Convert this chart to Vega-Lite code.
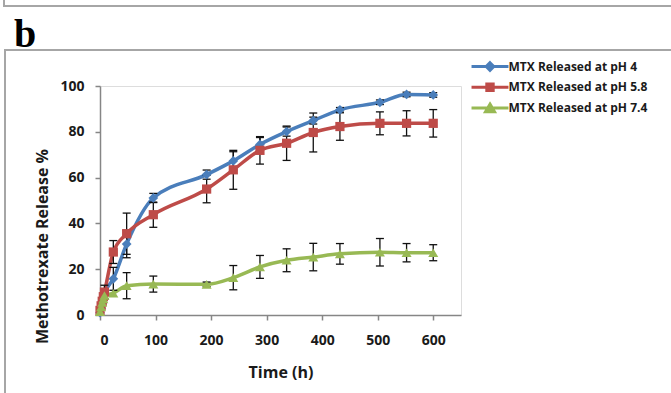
{
  "$schema": "https://vega.github.io/schema/vega-lite/v6.json",
  "autosize": {"type": "none"},
  "padding": {"left": 100, "top": 86, "right": 210, "bottom": 78},
  "width": 361,
  "height": 229,
  "background": "white",
  "title": {"text": "b", "anchor": "start", "frame": "group", "font": "Liberation Serif", "fontSize": 40, "fontWeight": "bold", "color": "#000000", "dx": -86, "dy": 41, "orient": "top", "baseline": "alphabetic", "offset": -52},
  "data": {
    "values": [
      {"series": "MTX Released at pH 4", "t": 0, "v": 1, "e": 0},
      {"series": "MTX Released at pH 4", "t": 2, "v": 3, "e": 0},
      {"series": "MTX Released at pH 4", "t": 4, "v": 5, "e": 0},
      {"series": "MTX Released at pH 4", "t": 6, "v": 7, "e": 0},
      {"series": "MTX Released at pH 4", "t": 8, "v": 9, "e": 2},
      {"series": "MTX Released at pH 4", "t": 24, "v": 15.8, "e": 5},
      {"series": "MTX Released at pH 4", "t": 48, "v": 31, "e": 6},
      {"series": "MTX Released at pH 4", "t": 96, "v": 51.1, "e": 2},
      {"series": "MTX Released at pH 4", "t": 192, "v": 61.3, "e": 2},
      {"series": "MTX Released at pH 4", "t": 240, "v": 67.3, "e": 4},
      {"series": "MTX Released at pH 4", "t": 288, "v": 74.5, "e": 3},
      {"series": "MTX Released at pH 4", "t": 336, "v": 80.1, "e": 2},
      {"series": "MTX Released at pH 4", "t": 384, "v": 84.9, "e": 1.5},
      {"series": "MTX Released at pH 4", "t": 432, "v": 89.6, "e": 1},
      {"series": "MTX Released at pH 4", "t": 504, "v": 92.9, "e": 1},
      {"series": "MTX Released at pH 4", "t": 552, "v": 96.3, "e": 1},
      {"series": "MTX Released at pH 4", "t": 600, "v": 96.1, "e": 1},
      {"series": "MTX Released at pH 5.8", "t": 0, "v": 2, "e": 0},
      {"series": "MTX Released at pH 5.8", "t": 2, "v": 4, "e": 0},
      {"series": "MTX Released at pH 5.8", "t": 4, "v": 6, "e": 0},
      {"series": "MTX Released at pH 5.8", "t": 6, "v": 8, "e": 0},
      {"series": "MTX Released at pH 5.8", "t": 8, "v": 10, "e": 3},
      {"series": "MTX Released at pH 5.8", "t": 24, "v": 27.5, "e": 5},
      {"series": "MTX Released at pH 5.8", "t": 48, "v": 35.5, "e": 9},
      {"series": "MTX Released at pH 5.8", "t": 96, "v": 43.8, "e": 5.5},
      {"series": "MTX Released at pH 5.8", "t": 192, "v": 55, "e": 6},
      {"series": "MTX Released at pH 5.8", "t": 240, "v": 63.4, "e": 8.5},
      {"series": "MTX Released at pH 5.8", "t": 288, "v": 71.9, "e": 6},
      {"series": "MTX Released at pH 5.8", "t": 336, "v": 75, "e": 7.5},
      {"series": "MTX Released at pH 5.8", "t": 384, "v": 79.7, "e": 8.5},
      {"series": "MTX Released at pH 5.8", "t": 432, "v": 82.3, "e": 6},
      {"series": "MTX Released at pH 5.8", "t": 504, "v": 83.7, "e": 5},
      {"series": "MTX Released at pH 5.8", "t": 552, "v": 83.7, "e": 5.5},
      {"series": "MTX Released at pH 5.8", "t": 600, "v": 83.7, "e": 6},
      {"series": "MTX Released at pH 7.4", "t": 0, "v": 1.5, "e": 0},
      {"series": "MTX Released at pH 7.4", "t": 2, "v": 3.5, "e": 0},
      {"series": "MTX Released at pH 7.4", "t": 4, "v": 5.5, "e": 0},
      {"series": "MTX Released at pH 7.4", "t": 6, "v": 7, "e": 0},
      {"series": "MTX Released at pH 7.4", "t": 8, "v": 8.5, "e": 0},
      {"series": "MTX Released at pH 7.4", "t": 24, "v": 9.5, "e": 0},
      {"series": "MTX Released at pH 7.4", "t": 48, "v": 12.8, "e": 5.7},
      {"series": "MTX Released at pH 7.4", "t": 96, "v": 13.5, "e": 3.5},
      {"series": "MTX Released at pH 7.4", "t": 192, "v": 13.4, "e": 1},
      {"series": "MTX Released at pH 7.4", "t": 240, "v": 16.3, "e": 5.3},
      {"series": "MTX Released at pH 7.4", "t": 288, "v": 21, "e": 5},
      {"series": "MTX Released at pH 7.4", "t": 336, "v": 23.9, "e": 5},
      {"series": "MTX Released at pH 7.4", "t": 384, "v": 25.3, "e": 6},
      {"series": "MTX Released at pH 7.4", "t": 432, "v": 26.7, "e": 4.5},
      {"series": "MTX Released at pH 7.4", "t": 504, "v": 27.4, "e": 6},
      {"series": "MTX Released at pH 7.4", "t": 552, "v": 27.2, "e": 4},
      {"series": "MTX Released at pH 7.4", "t": 600, "v": 27.2, "e": 3.5}
    ]
  },
  "encoding": {
    "x": {
      "field": "t", "type": "quantitative",
      "scale": {"domain": [0, 650], "nice": false, "zero": false},
      "axis": {
        "title": "Time (h)", "values": [0, 100, 200, 300, 400, 500, 600],
        "grid": false, "domainColor": "#868686", "domainWidth": 1.5, "tickColor": "#868686", "tickSize": 5, "tickWidth": 1.5,
        "labelFont": "Open Sans", "labelFontSize": 14, "labelFontWeight": "bold", "labelColor": "#1a1a1a", "labelPadding": 13,
        "titleFont": "Open Sans", "titleFontSize": 16, "titleFontWeight": "bold", "titleColor": "#1a1a1a",
        "titleBaseline": "middle", "titleY": 57
      }
    },
    "y": {
      "field": "v", "type": "quantitative",
      "scale": {"domain": [0, 100], "nice": false},
      "axis": {
        "title": "Methotrexate Release %", "values": [0, 20, 40, 60, 80, 100],
        "grid": false, "domainColor": "#868686", "domainWidth": 1.5, "tickColor": "#868686", "tickSize": 5, "tickWidth": 1.5,
        "labelFont": "Open Sans", "labelFontSize": 14, "labelFontWeight": "bold", "labelColor": "#1a1a1a", "labelPadding": 11,
        "titleFont": "Open Sans", "titleFontSize": 16, "titleFontWeight": "bold", "titleColor": "#1a1a1a",
        "titleAngle": -90, "titleAlign": "center", "titleBaseline": "middle", "titleX": -58, "titleY": 160
      }
    }
  },
  "layer": [
    {
      "mark": {"type": "line", "interpolate": "monotone", "strokeWidth": 3.5},
      "encoding": {
        "color": {
          "field": "series", "type": "nominal",
          "scale": {"domain": ["MTX Released at pH 4", "MTX Released at pH 5.8", "MTX Released at pH 7.4"], "range": ["#4A7EBB", "#BE4B48", "#98B954"]},
          "legend": {
            "orient": "none", "legendX": 380.5, "legendY": -29, "title": null, "padding": 0,
            "labelFont": "Open Sans", "labelFontSize": 12, "labelFontWeight": "bold", "labelColor": "#1a1a1a",
            "symbolSize": 256, "labelOffset": 9, "rowPadding": 0.8, "symbolStrokeWidth": 3,
            "encode": {
              "symbols": {
                "update": {
                  "shape": {"signal": "datum.value === 'MTX Released at pH 4' ? 'M-2.31,0H2.31M0,-0.47L0.47,0L0,0.47L-0.47,0Z' : datum.value === 'MTX Released at pH 5.8' ? 'M-2.31,0H2.31M-0.4,-0.4H0.4V0.4H-0.4Z' : 'M-2.31,0H2.31M0,-0.5L0.56,0.45H-0.56Z'"},
                  "fill": {"scale": "color", "field": "value"},
                  "fillOpacity": {"value": 1},
                  "strokeWidth": {"value": 3}
                }
              }
            }
          }
        }
      }
    },
    {
      "transform": [{"filter": "datum.e > 0"}],
      "mark": {"type": "errorbar", "ticks": {"size": 8, "color": "#111111", "strokeWidth": 1.3}, "color": "#111111", "thickness": 1.3},
      "encoding": {
        "y": {"field": "v", "type": "quantitative"},
        "yError": {"field": "e"},
        "opacity": {
          "datum": "panel", "type": "nominal", "scale": {"range": [1]},
          "legend": {
            "orient": "none", "legendX": -95, "legendY": -36, "title": null, "padding": 160,
            "strokeColor": "#A6A6A6", "symbolOpacity": 0, "symbolFillColor": "transparent", "symbolStrokeColor": "transparent", "labelOpacity": 0, "labelFontSize": 1, "symbolSize": 108900, "labelOffset": 30,
            "encode": {
              "legend": {"update": {"strokeWidth": {"value": 2}}},
              "labels": {"update": {"text": {"value": ""}}},
              "symbols": {"update": {"opacity": {"value": 0}, "fill": {"value": "transparent"}, "stroke": {"value": "transparent"}, "fillOpacity": {"value": 0}, "strokeOpacity": {"value": 0}}}
            }
          }
        }
      }
    },
    {
      "transform": [{"filter": "datum.series === 'MTX Released at pH 4'"}],
      "mark": {"type": "point", "filled": true, "opacity": 1, "size": 95, "shape": "diamond"},
      "encoding": {
        "fill": {
          "datum": 1, "type": "quantitative", "scale": {"domain": [0, 1], "range": ["#4A7EBB", "#4A7EBB"]},
          "legend": {
            "orient": "none", "legendX": -96, "legendY": -91, "title": null, "padding": 0, "direction": "horizontal",
            "gradientLength": 700, "gradientThickness": 10, "gradientOpacity": 0, "gradientStrokeWidth": 0,
            "labelOpacity": 0, "labelFontSize": 1, "labelOffset": 0,
            "strokeColor": "#A6A6A6",
            "encode": {"legend": {"update": {"strokeWidth": {"value": 2}}}, "labels": {"update": {"text": {"value": ""}}}}
          }
        }
      }
    },
    {
      "transform": [{"filter": "datum.series === 'MTX Released at pH 5.8'"}],
      "mark": {"type": "point", "filled": true, "opacity": 1, "size": 85, "shape": "square", "color": "#BE4B48"}
    },
    {
      "transform": [{"filter": "datum.series === 'MTX Released at pH 7.4'"}],
      "mark": {"type": "point", "filled": true, "opacity": 1, "size": 100, "shape": "triangle-up", "color": "#98B954"}
    }
  ]
}
